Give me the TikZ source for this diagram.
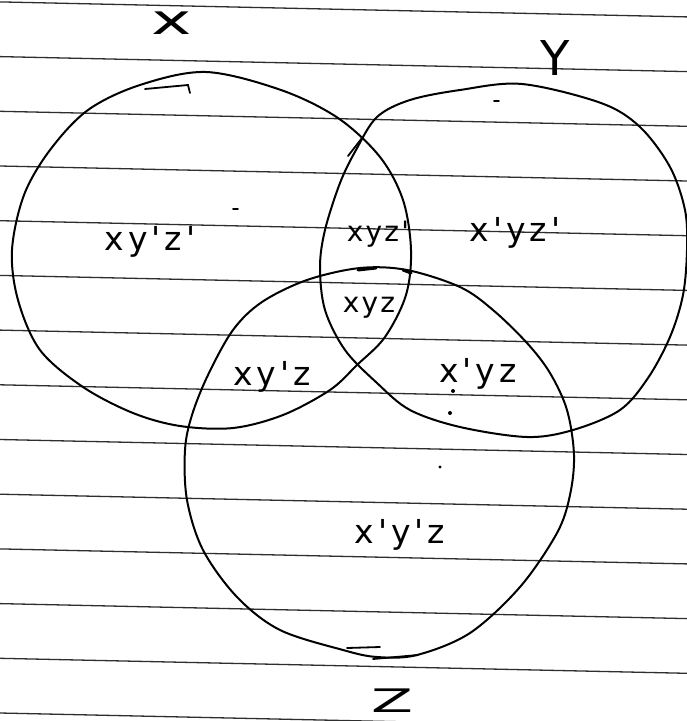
\documentclass[tikz,border=0pt]{standalone}
\usepackage{fontspec}
\newfontfamily\handA[LetterSpace=12]{DejaVu Sans}
\newfontfamily\handB[LetterSpace=8]{DejaVu Sans}
\newfontfamily\handC{DejaVu Sans}
\begin{document}
\begin{tikzpicture}[x=1pt,y=-1pt,
  rule/.style={draw=black!82,line width=1.3pt},
  venn/.style={draw=black,line width=2pt},
  penmark/.style={draw=black,line width=1.8pt,line cap=round},
  labA/.style={font=\handA\fontsize{33}{33}\selectfont,inner sep=0pt},
  labB/.style={font=\handB\fontsize{28}{28}\selectfont,inner sep=0pt},
  setlab/.style={font=\handC\fontsize{36}{36}\selectfont,inner sep=0pt}]
\useasboundingbox (0,0) rectangle (687,721);
\fill[white] (0,0) rectangle (687,721);
% ruled paper
\foreach \k in {0,...,13}
  \draw[rule] (0,{1.9+54.7*\k}) -- (687,{1.9+54.7*\k+15});
% set X
\draw[venn] plot[smooth cycle,tension=0.55] coordinates {
 (206,72) (281,90) (338,118) (380,157) (403,200) (411,250) (406,295)
 (385,337) (357,365) (330,390) (283,415) (233,428) (180,426) (133,413)
 (83,387) (40,350) (18,300) (12,250) (24,195) (50,150) (88,110) (140,85)};
% set Y
\draw[venn] plot[smooth cycle,tension=0.55] coordinates {
 (522,84) (601,103) (640,127) (670,167) (685,210) (687,250) (683,295)
 (670,337) (648,378) (620,410) (573,430) (527,437) (460,427) (410,410)
 (377,383) (345,350) (325,310) (320,267) (325,230) (340,183) (356,150)
 (377,117) (410,100) (460,90)};
% set Z
\draw[venn] plot[smooth cycle,tension=0.55] coordinates {
 (360,268) (407,270) (460,287) (493,310) (527,343) (550,373) (567,410)
 (574,455) (570,495) (557,533) (520,587) (470,633) (417,655) (377,657)
 (343,650) (280,630) (237,597) (203,550) (187,500) (185,450) (192,415)
 (208,375) (233,330) (262,302) (307,280)};
% small pen marks
\draw[penmark] (145,89) -- (188,85) -- (190,93);
\draw[penmark] (348,156) -- (362,138);
\draw[penmark,line width=3pt] (358,270) -- (376,268);
\draw[penmark,line width=3pt] (403,270) -- (411,273);
\draw[penmark] (347,648) -- (380,647);
\draw[penmark] (373,659) -- (418,655);
\draw[penmark] (233,209) -- (238,209);
\draw[penmark] (494,101) -- (499,101);
\fill (453,391) circle (2pt);
\fill (450,413) circle (2pt);
\fill (440,467) circle (1.6pt);
% set labels
\node[setlab,anchor=base] (lx) at (172,34) {\scalebox{1.9}[1.15]{x}};
\node[setlab,anchor=base] (ly) at (555,75) {\fontsize{48}{48}\selectfont Y};
\node[setlab,anchor=base] (lz) at (392,712) {\scalebox{1.7}[0.9]{Z}};
% region labels
\node[labA,anchor=base] (r1) at (150,250) {xy'z'};
\node[labB,anchor=base] (r2) at (378,241) {xyz'};
\node[labA,anchor=base] (r3) at (515,241) {x'yz'};
\node[labB,anchor=base] (r4) at (369,312) {xyz};
\node[labA,anchor=base] (r5) at (272,385) {xy'z};
\node[labA,anchor=base] (r6) at (478,382) {x'yz};
\node[labA,anchor=base] (r7) at (400,543) {x'y'z};
\end{tikzpicture}
\end{document}
